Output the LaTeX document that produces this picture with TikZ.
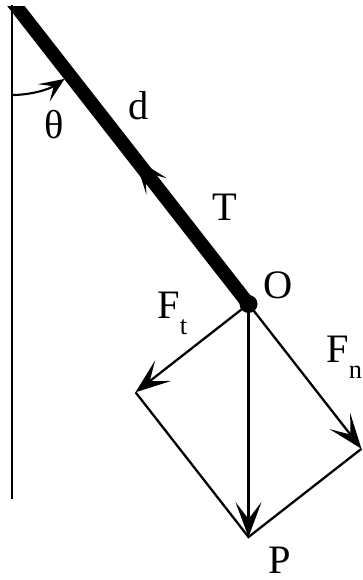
\documentclass[tikz,border=0pt]{standalone}
\usepackage{fontspec}
\setmainfont{Liberation Serif}
\usetikzlibrary{arrows.meta,calc}
\newcommand{\forcesub}[1]{\raisebox{-0.42em}{\fontsize{15}{15}\selectfont #1}}
\tikzset{
  wall/.style   ={line width=1.1pt},
  rod/.style    ={line width=7.8pt},
  force/.style  ={line width=1.3pt,-{Stealth[length=7mm,width=5.2mm,inset=3.4mm]}},
  side/.style   ={line width=1.3pt},
  anglearc/.style={line width=1.2pt,-{Stealth[length=5mm,width=4.2mm,inset=2.4mm]}},
  lbl/.style    ={inner sep=0pt,font=\fontsize{23}{27}\selectfont},
}

\begin{document}
\begin{tikzpicture}
  \useasboundingbox (0,0) rectangle (7.24,-11.6);
  % points
  \coordinate (top) at (0.24,-0.02);
  \coordinate (O)   at (4.97,-6.08);
  \coordinate (P)   at (4.97,-10.74);
  \coordinate (Fn)  at ($(top)!(P)!(O)$);
  \coordinate (Ft)  at ($(O)+(P)-(Fn)$);
  \coordinate (Tt)  at ($(O)!0.48!(top)$);
  \coordinate (w1)  at (0.24,-0.1);
  \coordinate (w2)  at (0.24,-9.98);
  % wall and rod
  \draw[wall] (w1) -- (w2);
  \begin{scope}
    \clip (0,-0.12) rectangle (7.24,-11.6);
    \draw[rod] (O) -- ($(O)!1.05!(top)$);
  \end{scope}
  \fill (O) circle (0.18);
  \draw[force] (O) -- (Tt);
  \draw[anglearc] (0.24,-1.9) arc[start angle=-90,end angle=-56,radius=1.88];
  % forces
  \draw[force] (O) -- (Ft);
  \draw[force] (O) -- (Fn);
  \draw[force] (O) -- (P);
  \draw[side] (Ft) -- (P) -- (Fn);
  % labels
  \node[lbl] (theta) at (1.08,-2.5)  {θ};
  \node[lbl] (d)     at (2.78,-2.12) {d};
  \node[lbl] (T)     at (4.5,-4.14)  {T};
  \node[lbl] (o)     at (5.56,-5.7)  {O};
  \node[lbl,anchor=base west] (ft) at (3.14,-6.36) {F\forcesub{t}};
  \node[lbl,anchor=base west] (fn) at (6.52,-7.24) {F\forcesub{n}};
  \node[lbl] (p)     at (5.6,-11.2)  {P};
\end{tikzpicture}
\end{document}
